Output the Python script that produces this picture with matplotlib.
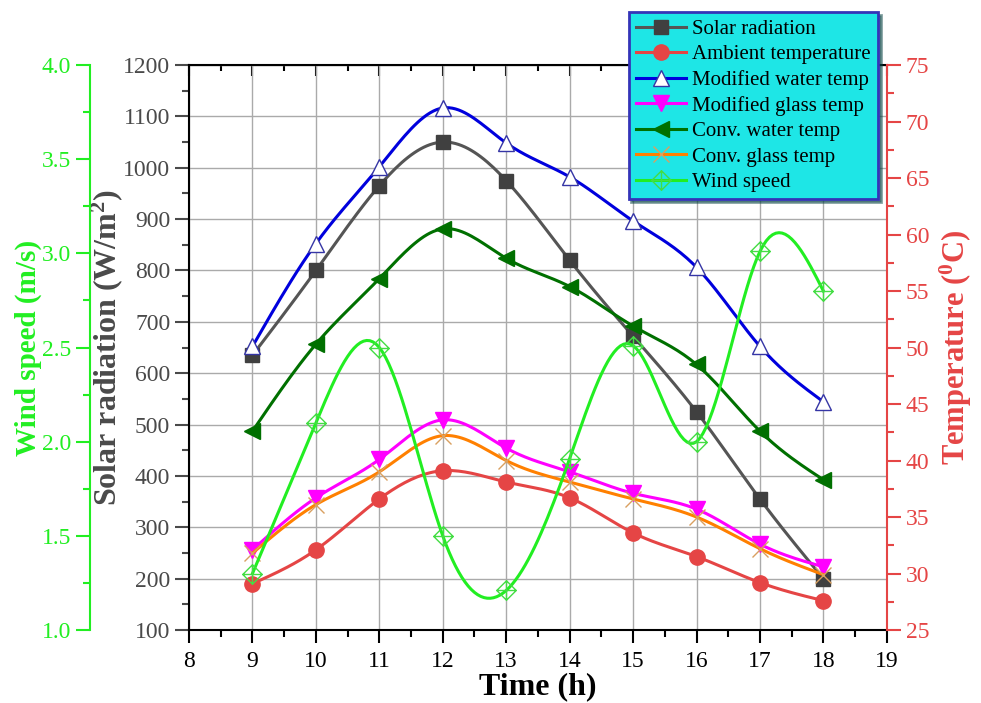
import numpy as np
import matplotlib.pyplot as plt
from matplotlib.path import Path
from matplotlib.ticker import MultipleLocator

plt.rcParams['font.family'] = ['Liberation Serif', 'DejaVu Serif']
plt.rcParams['mathtext.fontset'] = 'custom'
plt.rcParams['mathtext.rm'] = 'Liberation Serif'
plt.rcParams['mathtext.bf'] = 'Liberation Serif:bold'

# hourly readings
hours = [9, 10, 11, 12, 13, 14, 15, 16, 17, 18]
solar = [635, 800, 965, 1050, 975, 820, 672, 525, 355, 200]
ambient = [29.1, 32.1, 36.6, 39.1, 38.1, 36.7, 33.6, 31.5, 29.2, 27.6]
mod_water = [50.1, 59.2, 66.0, 71.2, 68.1, 65.1, 61.2, 57.1, 50.1, 45.2]
mod_glass = [32.1, 36.7, 40.1, 43.6, 41.1, 39.0, 37.1, 35.7, 32.6, 30.6]
conv_water = [42.6, 50.3, 56.1, 60.5, 57.9, 55.4, 51.9, 48.5, 42.6, 38.3]
conv_glass = [31.8, 36.1, 39.0, 42.2, 40.0, 38.1, 36.6, 35.0, 32.2, 29.9]
wind = [1.30, 2.10, 2.50, 1.50, 1.21, 1.91, 2.51, 2.00, 3.01, 2.80]


def spline(x, y, n_sub=20):
    # natural cubic spline through the points, sampled n_sub times per interval
    x = np.asarray(x, float)
    y = np.asarray(y, float)
    n = len(x)
    h = np.diff(x)
    A = np.zeros((n, n))
    r = np.zeros(n)
    A[0, 0] = A[-1, -1] = 1
    for i in range(1, n - 1):
        A[i, i - 1] = h[i - 1]
        A[i, i] = 2 * (h[i - 1] + h[i])
        A[i, i + 1] = h[i]
        r[i] = 3 * ((y[i + 1] - y[i]) / h[i] - (y[i] - y[i - 1]) / h[i - 1])
    c = np.linalg.solve(A, r)
    b = (y[1:] - y[:-1]) / h - h * (2 * c[:-1] + c[1:]) / 3
    d = (c[1:] - c[:-1]) / (3 * h)
    xs = np.linspace(x[0], x[-1], (n - 1) * n_sub + 1)
    idx = np.clip(np.searchsorted(x, xs, side='right') - 1, 0, n - 2)
    t = xs - x[idx]
    ys = y[idx] + b[idx] * t + c[idx] * t ** 2 + d[idx] * t ** 3
    return xs, ys, list(range(0, len(xs), n_sub))


# diamond with a cross inside
diamond_cross = Path(
    [(0, 1), (1, 0), (0, -1), (-1, 0), (0, 1), (0, 1), (0, -1), (-1, 0), (1, 0)],
    [Path.MOVETO, Path.LINETO, Path.LINETO, Path.LINETO, Path.CLOSEPOLY,
     Path.MOVETO, Path.LINETO, Path.MOVETO, Path.LINETO])

fig = plt.figure(figsize=(9.81, 7.03), dpi=100)
ax = fig.add_axes([0.1927, 0.1038, 0.7113, 0.8037])
ax_t = ax.twinx()
ax_w = ax.twinx()

gray = '#4a4a4a'
red = '#e54545'
green = '#22ee22'

lines = []
xs, ys, mk = spline(hours, solar)
lines += ax.plot(xs, ys, color='#555555', lw=2.2, marker='s', markevery=mk, ms=10,
                 mfc='#404040', mec='#404040', label='Solar radiation')
xs, ys, mk = spline(hours, ambient)
lines += ax_t.plot(xs, ys, color=red, lw=2.2, marker='o', markevery=mk, ms=11,
                   mfc=red, mec=red, label='Ambient temperature')
xs, ys, mk = spline(hours, mod_water)
lines += ax_t.plot(xs, ys, color='#0000dd', lw=2.2, marker='^', markevery=mk, ms=12,
                   mfc='white', mec='#3535a5', mew=1, label='Modified water temp')
xs, ys, mk = spline(hours, mod_glass)
lines += ax_t.plot(xs, ys, color='#ff00ff', lw=2.2, marker='v', markevery=mk, ms=12,
                   mfc='#ff00ff', mec='#ff00ff', label='Modified glass temp')
xs, ys, mk = spline(hours, conv_water)
lines += ax_t.plot(xs, ys, color='#007000', lw=2.2, marker='<', markevery=mk, ms=12,
                   mfc='#007000', mec='#007000', label='Conv. water temp')
xs, ys, mk = spline(hours, conv_glass)
lines += ax_t.plot(xs, ys, color='#ff8000', lw=2.2, marker='x', markevery=mk, ms=12,
                   mec='#d9a060', mew=1, label='Conv. glass temp')
xs, ys, mk = spline(hours, wind)
lines += ax_w.plot(xs, ys, color=green, lw=2.2, marker=diamond_cross, markevery=mk,
                   ms=14, mfc='none', mec='#44dd44', mew=1, label='Wind speed')

# main axis: time and solar radiation
ax.set_xlim(8, 19)
ax.set_ylim(100, 1200)
ax.xaxis.set_major_locator(MultipleLocator(1))
ax.xaxis.set_minor_locator(MultipleLocator(0.5))
ax.yaxis.set_major_locator(MultipleLocator(100))
ax.yaxis.set_minor_locator(MultipleLocator(50))
ax.grid(True, which='major', color='#aaaaaa', lw=1)
ax.set_axisbelow(True)
ax.tick_params(axis='x', which='major', direction='out', length=9, width=1.5,
               labelsize=17, pad=6)
ax.tick_params(axis='x', which='minor', direction='out', length=5, width=1.5)
ax.tick_params(axis='y', which='major', direction='out', length=10, width=1.5,
               labelsize=17, labelcolor=gray, color=gray)
ax.tick_params(axis='y', which='minor', direction='out', length=5, width=1.5, color=gray)
ax.spines['left'].set_linewidth(1.5)
ax.spines['bottom'].set_linewidth(1.5)
ax.spines['top'].set_linewidth(1.5)
ax.spines['right'].set_visible(False)
ax.set_xlabel('Time (h)', fontsize=23, fontweight='bold', labelpad=0)
ax.set_ylabel(r'Solar radiation (W/m$\mathbf{^2}$)', fontsize=23, fontweight='bold',
              color=gray, labelpad=-1)

top = ax.secondary_xaxis('top')
top.xaxis.set_major_locator(MultipleLocator(1))
top.xaxis.set_minor_locator(MultipleLocator(0.5))
top.tick_params(axis='x', which='major', direction='in', length=8, width=1.5,
                labeltop=False)
top.tick_params(axis='x', which='minor', direction='in', length=4, width=1.5)

# temperature axis on the right
ax_t.set_ylim(25, 75)
ax_t.yaxis.set_major_locator(MultipleLocator(5))
ax_t.yaxis.set_minor_locator(MultipleLocator(2.5))
ax_t.tick_params(axis='y', which='major', direction='out', length=10, width=1.5,
                 labelsize=17, colors=red)
ax_t.tick_params(axis='y', which='minor', direction='out', length=5, width=1.5, colors=red)
ax_t.spines['right'].set_color(red)
ax_t.spines['right'].set_linewidth(1.5)
for s in ['left', 'top', 'bottom']:
    ax_t.spines[s].set_visible(False)
ax_t.set_ylabel(r'Temperature ($\mathbf{^0}$C)', fontsize=22, fontweight='bold',
                color=red, labelpad=6)

# wind speed axis, offset to the far left
ax_w.set_ylim(1.0, 4.0)
ax_w.yaxis.set_major_locator(MultipleLocator(0.5))
ax_w.yaxis.set_minor_locator(MultipleLocator(0.25))
ax_w.yaxis.set_ticks_position('left')
ax_w.yaxis.set_label_position('left')
ax_w.spines['left'].set_position(('axes', -0.142))
ax_w.spines['left'].set_visible(True)
ax_w.spines['left'].set_color(green)
ax_w.spines['left'].set_linewidth(1.5)
for s in ['right', 'top', 'bottom']:
    ax_w.spines[s].set_visible(False)
ax_w.yaxis.set_major_formatter(plt.FormatStrFormatter('%.1f'))
ax_w.tick_params(axis='y', which='major', direction='out', length=10, width=1.5,
                 labelsize=17, colors=green)
ax_w.tick_params(axis='y', which='minor', direction='out', length=5, width=1.5, colors=green)
ax_w.set_ylabel('Wind speed (m/s)', fontsize=21, fontweight='bold', color=green, labelpad=0)

leg = fig.legend(lines, [l.get_label() for l in lines], loc='upper right',
                 bbox_to_anchor=(0.895, 0.983), fontsize=15, facecolor='#1ee6e6',
                 edgecolor='#3434b8', framealpha=1, fancybox=False, shadow=True,
                 handlelength=2.4, labelspacing=0.28, borderpad=0.35,
                 handletextpad=0.3, borderaxespad=0)
leg.get_frame().set_linewidth(2)

fig.savefig('out.png', dpi=100)
